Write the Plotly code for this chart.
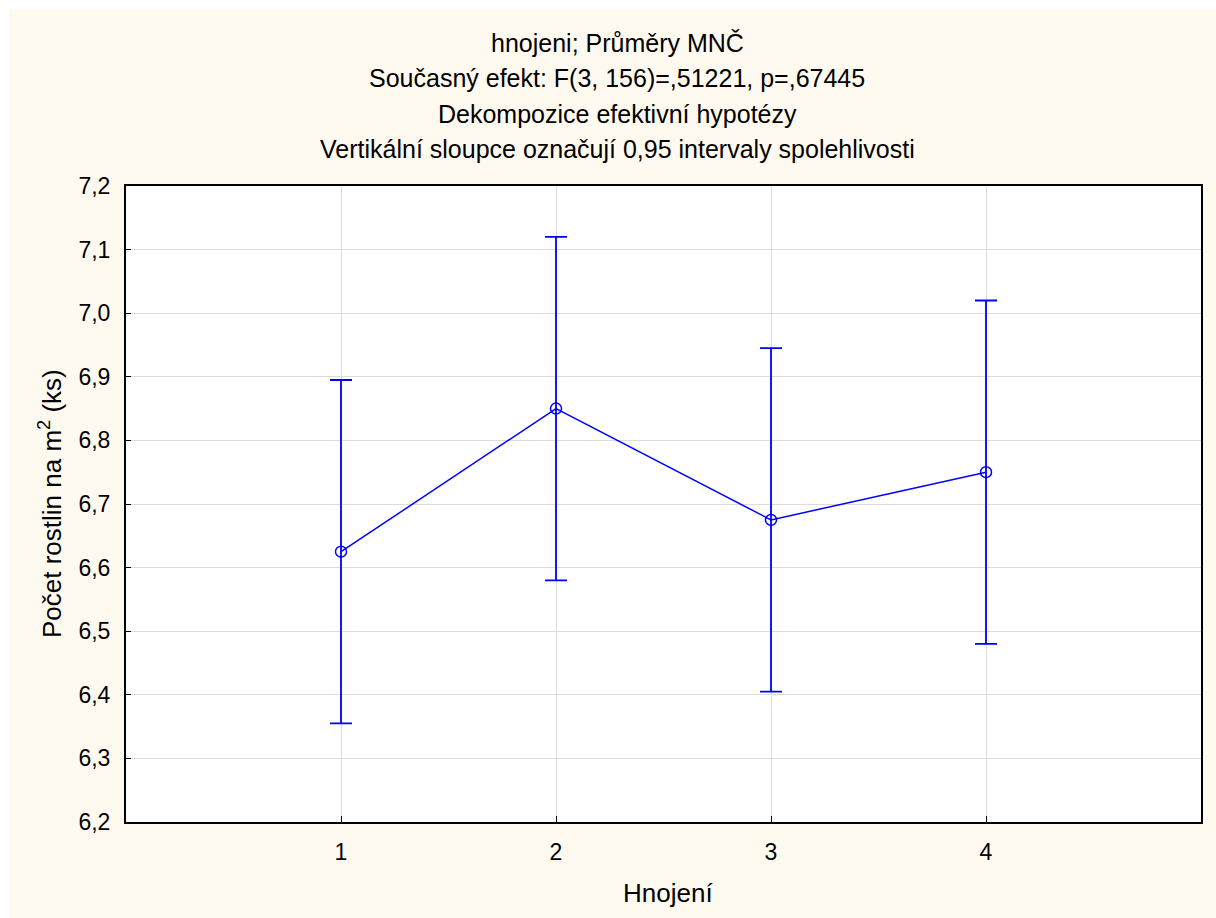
import plotly.graph_objects as go

categories = [1, 2, 3, 4]
means = [6.625, 6.85, 6.675, 6.75]
ci_upper = [6.895, 7.12, 6.945, 7.02]
ci_lower = [6.355, 6.58, 6.405, 6.48]
y_ticks = [6.2, 6.3, 6.4, 6.5, 6.6, 6.7, 6.8, 6.9, 7.0, 7.1, 7.2]
y_tick_labels = ["6,2", "6,3", "6,4", "6,5", "6,6", "6,7", "6,8", "6,9", "7,0", "7,1", "7,2"]
title_lines = [
    "hnojeni; Průměry MNČ",
    "Současný efekt: F(3, 156)=,51221, p=,67445",
    "Dekompozice efektivní hypotézy",
    "Vertikální sloupce označují 0,95 intervaly spolehlivosti",
]

W, H = 1216, 918
ML, MR, MT, MB = 126, 15, 186, 96
PW, PH = W - ML - MR, H - MT - MB

def px_x(px):
    return (px - ML) / PW

def px_y(py):
    return (H - MB - py) / PH

FONT = "Liberation Sans, Arial, sans-serif"
BLUE = "#0000FF"

fig = go.Figure()
fig.add_trace(go.Scatter(
    x=categories, y=means, mode="lines+markers",
    line=dict(color=BLUE, width=1.5),
    marker=dict(symbol="circle-open", size=11, color=BLUE, line=dict(width=1.5)),
    error_y=dict(type="data", symmetric=False,
                 array=[u - m for u, m in zip(ci_upper, means)],
                 arrayminus=[m - l for m, l in zip(means, ci_lower)],
                 color=BLUE, thickness=1.8, width=11),
    showlegend=False,
))

title_y_px = [43, 78, 114, 149]
annotations = []
for line, py in zip(title_lines, title_y_px):
    annotations.append(dict(text=line, xref="paper", yref="paper", x=px_x(617), y=px_y(py),
                            xanchor="center", yanchor="middle", showarrow=False,
                            font=dict(family=FONT, size=25, color="black")))
annotations.append(dict(text="Hnojení", xref="paper", yref="paper", x=px_x(668), y=px_y(893),
                        xanchor="center", yanchor="middle", showarrow=False,
                        font=dict(family=FONT, size=26, color="black")))
annotations.append(dict(text="Počet rostlin na m<sup>2</sup> (ks)", xref="paper", yref="paper",
                        x=px_x(50), y=px_y(504), textangle=-90, xanchor="center", yanchor="middle",
                        showarrow=False, font=dict(family=FONT, size=26, color="black")))

shapes = [
    dict(type="rect", xref="paper", yref="paper", x0=px_x(-5), x1=px_x(9), y0=px_y(930), y1=px_y(-5),
         fillcolor="white", line=dict(width=0), layer="above"),
    dict(type="rect", xref="paper", yref="paper", x0=px_x(-5), x1=px_x(1225), y0=px_y(10), y1=px_y(-5),
         fillcolor="white", line=dict(width=0), layer="above"),
]

fig.update_layout(
    width=W, height=H,
    margin=dict(l=ML, r=MR, t=MT, b=MB),
    paper_bgcolor="#FFFAF0",
    plot_bgcolor="white",
    font=dict(family=FONT, size=23, color="black"),
    annotations=annotations,
    shapes=shapes,
    xaxis=dict(range=[0, 5], tickvals=categories, ticktext=[str(c) for c in categories],
               showgrid=True, gridcolor="#DCDCDC", gridwidth=1,
               showline=True, linecolor="black", linewidth=2, mirror=True,
               ticks="inside", ticklen=6, tickcolor="black", tickwidth=1,
               ticklabelstandoff=8, zeroline=False,
               tickfont=dict(family=FONT, size=23, color="black")),
    yaxis=dict(range=[6.2, 7.2], tickvals=y_ticks, ticktext=y_tick_labels,
               showgrid=True, gridcolor="#DCDCDC", gridwidth=1,
               showline=True, linecolor="black", linewidth=2, mirror=True,
               ticks="inside", ticklen=5, tickcolor="black", tickwidth=1,
               ticklabelstandoff=9, zeroline=False,
               tickfont=dict(family=FONT, size=23, color="black")),
)

fig.write_html("out.html")
